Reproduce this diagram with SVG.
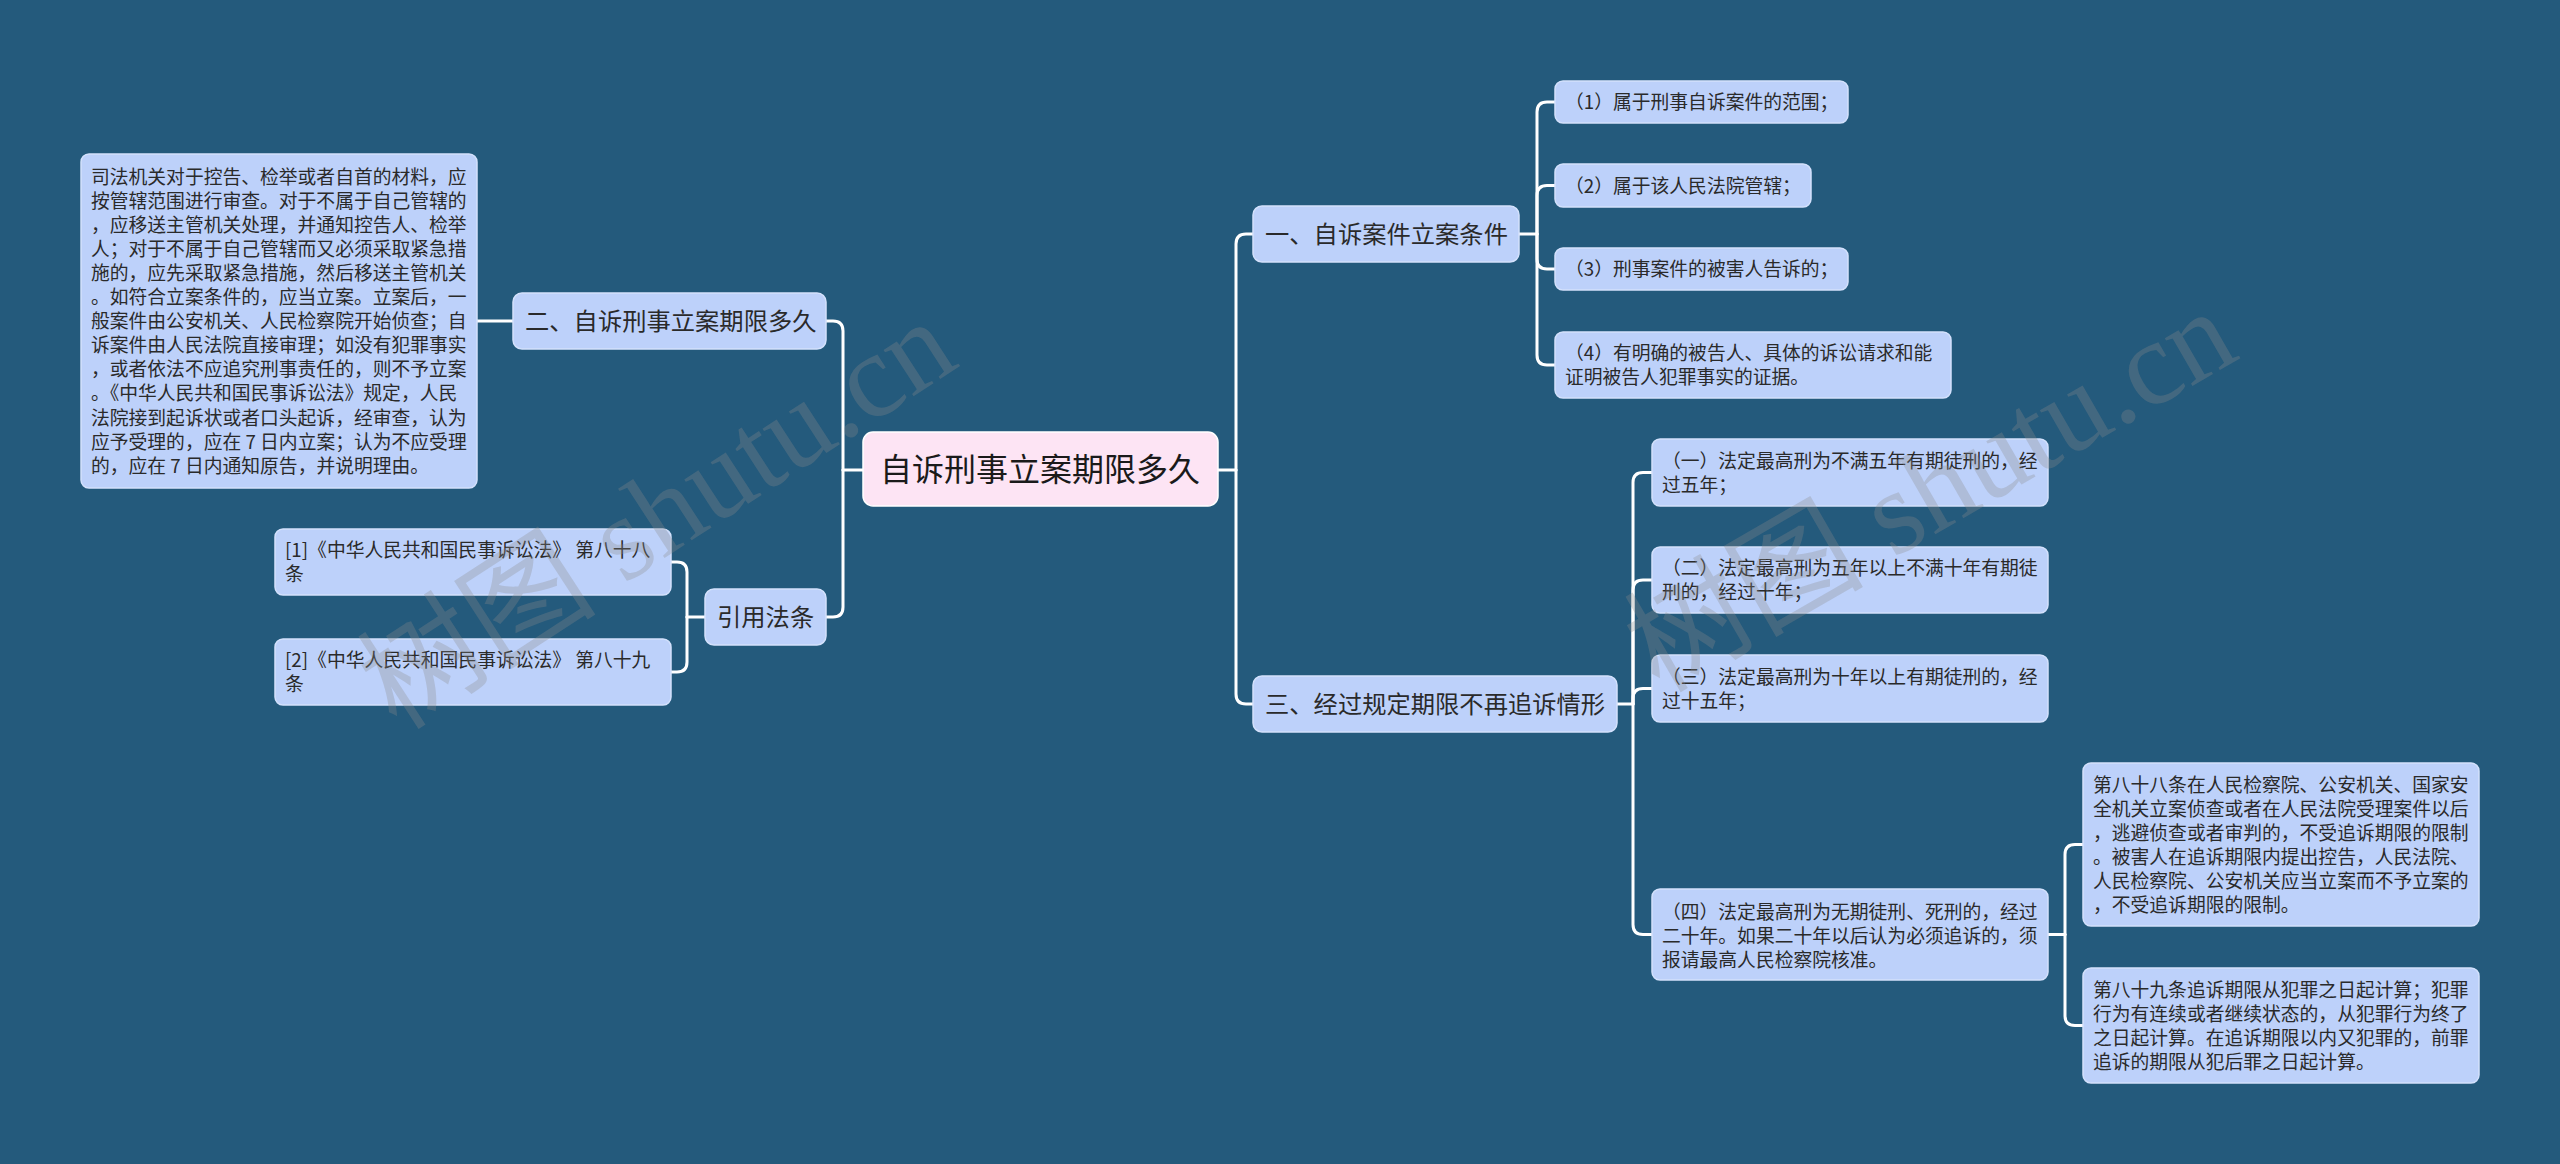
<svg xmlns="http://www.w3.org/2000/svg" width="2560" height="1164" viewBox="0 0 2560 1164">
<style>
.bg{fill:#245a7c}
.n1{fill:#bdd1fa;stroke:#d3e1fc;stroke-width:1.5}
.n0{fill:#fde4f4;stroke:#ffffff;stroke-width:1.5}
.t{font-family:"Noto Sans CJK SC","Noto Sans",sans-serif;fill:#2a2a2a}
.t0{font-size:32px;fill:#1a1a1a}
.t1{font-size:24.3px}
.t2{font-size:18.8px}
.c{fill:none;stroke:#ffffff;stroke-width:3;stroke-linecap:round;stroke-linejoin:round}
.wm{font-family:"Liberation Serif","Noto Sans CJK SC",serif;font-size:120px;fill:#8c8c8c;fill-opacity:0.3}
</style>
<rect class="bg" x="0" y="0" width="2560" height="1164"/>
<g id="connectors">
<path class="c" d="M1218,470 H1236"/>
<path class="c" d="M1236,470 V244 Q1236,234 1246,234 H1253"/>
<path class="c" d="M1236,470 V694 Q1236,704 1246,704 H1253"/>
<path class="c" d="M863,470 H843"/>
<path class="c" d="M843,470 V331 Q843,321 833,321 H826"/>
<path class="c" d="M843,470 V607 Q843,617 833,617 H826"/>
<path class="c" d="M513,321 H477"/>
<path class="c" d="M705,617 H687"/>
<path class="c" d="M687,617 V572 Q687,562 677,562 H671"/>
<path class="c" d="M687,617 V662 Q687,672 677,672 H671"/>
<path class="c" d="M1519,234 H1537"/>
<path class="c" d="M1537,234 V112 Q1537,102 1547,102 H1555"/>
<path class="c" d="M1537,234 V195.5 Q1537,185.5 1547,185.5 H1555"/>
<path class="c" d="M1537,234 V259 Q1537,269 1547,269 H1555"/>
<path class="c" d="M1537,234 V355 Q1537,365 1547,365 H1555"/>
<path class="c" d="M1617,704 H1633"/>
<path class="c" d="M1633,704 V482.5 Q1633,472.5 1643,472.5 H1652"/>
<path class="c" d="M1633,704 V590 Q1633,580 1643,580 H1652"/>
<path class="c" d="M1633,704 V698.5 Q1633,688.5 1643,688.5 H1652"/>
<path class="c" d="M1633,704 V924.5 Q1633,934.5 1643,934.5 H1652"/>
<path class="c" d="M2048,934.5 H2065"/>
<path class="c" d="M2065,934.5 V854.5 Q2065,844.5 2075,844.5 H2083"/>
<path class="c" d="M2065,934.5 V1015.5 Q2065,1025.5 2075,1025.5 H2083"/>
</g>
<g id="root">
<rect class="n0" x="863" y="432" width="355" height="74" rx="10"/>
<text class="t t0" x="880" y="481">自诉刑事立案期限多久</text>
</g>
<g id="n-liancase">
<rect class="n1" x="1253" y="206" width="266" height="56" rx="9"/>
<text class="t t1" x="1265" y="243">一、自诉案件立案条件</text>
</g>
<g id="n-c1">
<rect class="n1" x="1555" y="81" width="293" height="42" rx="8"/>
<text class="t t2" x="1565" y="109">（1）属于刑事自诉案件的范围；</text>
</g>
<g id="n-c2">
<rect class="n1" x="1555" y="164" width="256" height="43" rx="8"/>
<text class="t t2" x="1565" y="192.5">（2）属于该人民法院管辖；</text>
</g>
<g id="n-c3">
<rect class="n1" x="1555" y="248" width="293" height="42" rx="8"/>
<text class="t t2" x="1565" y="276">（3）刑事案件的被害人告诉的；</text>
</g>
<g id="n-c4">
<rect class="n1" x="1555" y="332" width="396" height="66" rx="8"/>
<text class="t t2" x="1565" y="360"><tspan x="1565">（4）有明确的被告人、具体的诉讼请求和能</tspan><tspan x="1565" dy="24.1">证明被告人犯罪事实的证据。</tspan></text>
</g>
<g id="n-limit">
<rect class="n1" x="1253" y="676" width="364" height="56" rx="9"/>
<text class="t t1" x="1265" y="713">三、经过规定期限不再追诉情形</text>
</g>
<g id="n-l1">
<rect class="n1" x="1652" y="439" width="396" height="67" rx="8"/>
<text class="t t2" y="467.5"><tspan x="1662">（一）法定最高刑为不满五年有期徒刑的，经</tspan><tspan x="1662" dy="24.1">过五年；</tspan></text>
</g>
<g id="n-l2">
<rect class="n1" x="1652" y="547" width="396" height="66" rx="8"/>
<text class="t t2" y="575"><tspan x="1662">（二）法定最高刑为五年以上不满十年有期徒</tspan><tspan x="1662" dy="24.1">刑的，经过十年；</tspan></text>
</g>
<g id="n-l3">
<rect class="n1" x="1652" y="655" width="396" height="67" rx="8"/>
<text class="t t2" y="683.5"><tspan x="1662">（三）法定最高刑为十年以上有期徒刑的，经</tspan><tspan x="1662" dy="24.1">过十五年；</tspan></text>
</g>
<g id="n-l4">
<rect class="n1" x="1652" y="889" width="396" height="91" rx="8"/>
<text class="t t2" y="918.5"><tspan x="1662">（四）法定最高刑为无期徒刑、死刑的，经过</tspan><tspan x="1662" dy="24.1">二十年。如果二十年以后认为必须追诉的，须</tspan><tspan x="1662" dy="24.1">报请最高人民检察院核准。</tspan></text>
</g>
<g id="n-a88">
<rect class="n1" x="2083" y="763" width="396" height="163" rx="8"/>
<text class="t t2" y="791.5"><tspan x="2093">第八十八条在人民检察院、公安机关、国家安</tspan><tspan x="2093" dy="24.1">全机关立案侦查或者在人民法院受理案件以后</tspan><tspan x="2093" dy="24.1">，逃避侦查或者审判的，不受追诉期限的限制</tspan><tspan x="2093" dy="24.1">。被害人在追诉期限内提出控告，人民法院、</tspan><tspan x="2093" dy="24.1">人民检察院、公安机关应当立案而不予立案的</tspan><tspan x="2093" dy="24.1">，不受追诉期限的限制。</tspan></text>
</g>
<g id="n-a89">
<rect class="n1" x="2083" y="968" width="396" height="115" rx="8"/>
<text class="t t2" y="996.5"><tspan x="2093">第八十九条追诉期限从犯罪之日起计算；犯罪</tspan><tspan x="2093" dy="24.1">行为有连续或者继续状态的，从犯罪行为终了</tspan><tspan x="2093" dy="24.1">之日起计算。在追诉期限以内又犯罪的，前罪</tspan><tspan x="2093" dy="24.1">追诉的期限从犯后罪之日起计算。</tspan></text>
</g>
<g id="n-period">
<rect class="n1" x="513" y="293" width="313" height="56" rx="9"/>
<text class="t t1" x="525" y="330">二、自诉刑事立案期限多久</text>
</g>
<g id="n-period-text">
<rect class="n1" x="81" y="154" width="396" height="334" rx="8"/>
<text class="t t2" y="183.5"><tspan x="91">司法机关对于控告、检举或者自首的材料，应</tspan><tspan x="91" dy="24.1">按管辖范围进行审查。对于不属于自己管辖的</tspan><tspan x="91" dy="24.1">，应移送主管机关处理，并通知控告人、检举</tspan><tspan x="91" dy="24.1">人；对于不属于自己管辖而又必须采取紧急措</tspan><tspan x="91" dy="24.1">施的，应先采取紧急措施，然后移送主管机关</tspan><tspan x="91" dy="24.1">。如符合立案条件的，应当立案。立案后，一</tspan><tspan x="91" dy="24.1">般案件由公安机关、人民检察院开始侦查；自</tspan><tspan x="91" dy="24.1">诉案件由人民法院直接审理；如没有犯罪事实</tspan><tspan x="91" dy="24.1">，或者依法不应追究刑事责任的，则不予立案</tspan><tspan x="91" dy="24.1">。《中华人民共和国民事诉讼法》规定，人民</tspan><tspan x="91" dy="24.1">法院接到起诉状或者口头起诉，经审查，认为</tspan><tspan x="91" dy="24.1">应予受理的，应在 7 日内立案；认为不应受理</tspan><tspan x="91" dy="24.1">的，应在 7 日内通知原告，并说明理由。</tspan></text>
</g>
<g id="n-law">
<rect class="n1" x="705" y="589" width="121" height="56" rx="9"/>
<text class="t t1" x="717" y="626">引用法条</text>
</g>
<g id="n-law1">
<rect class="n1" x="275" y="529" width="396" height="66" rx="8"/>
<text class="t t2" y="557"><tspan x="285">[1]《中华人民共和国民事诉讼法》 第八十八</tspan><tspan x="285" dy="24.1">条</tspan></text>
</g>
<g id="n-law2">
<rect class="n1" x="275" y="639" width="396" height="66" rx="8"/>
<text class="t t2" y="667"><tspan x="285">[2]《中华人民共和国民事诉讼法》 第八十九</tspan><tspan x="285" dy="24.1">条</tspan></text>
</g>
<g id="watermark">
<text class="wm" x="657" y="555" text-anchor="middle" transform="rotate(-33 657 514)">树图 shutu.cn</text>
<text class="wm" x="1930" y="531" text-anchor="middle" transform="rotate(-30 1930 490)">树图 shutu.cn</text>
</g>
</svg>
